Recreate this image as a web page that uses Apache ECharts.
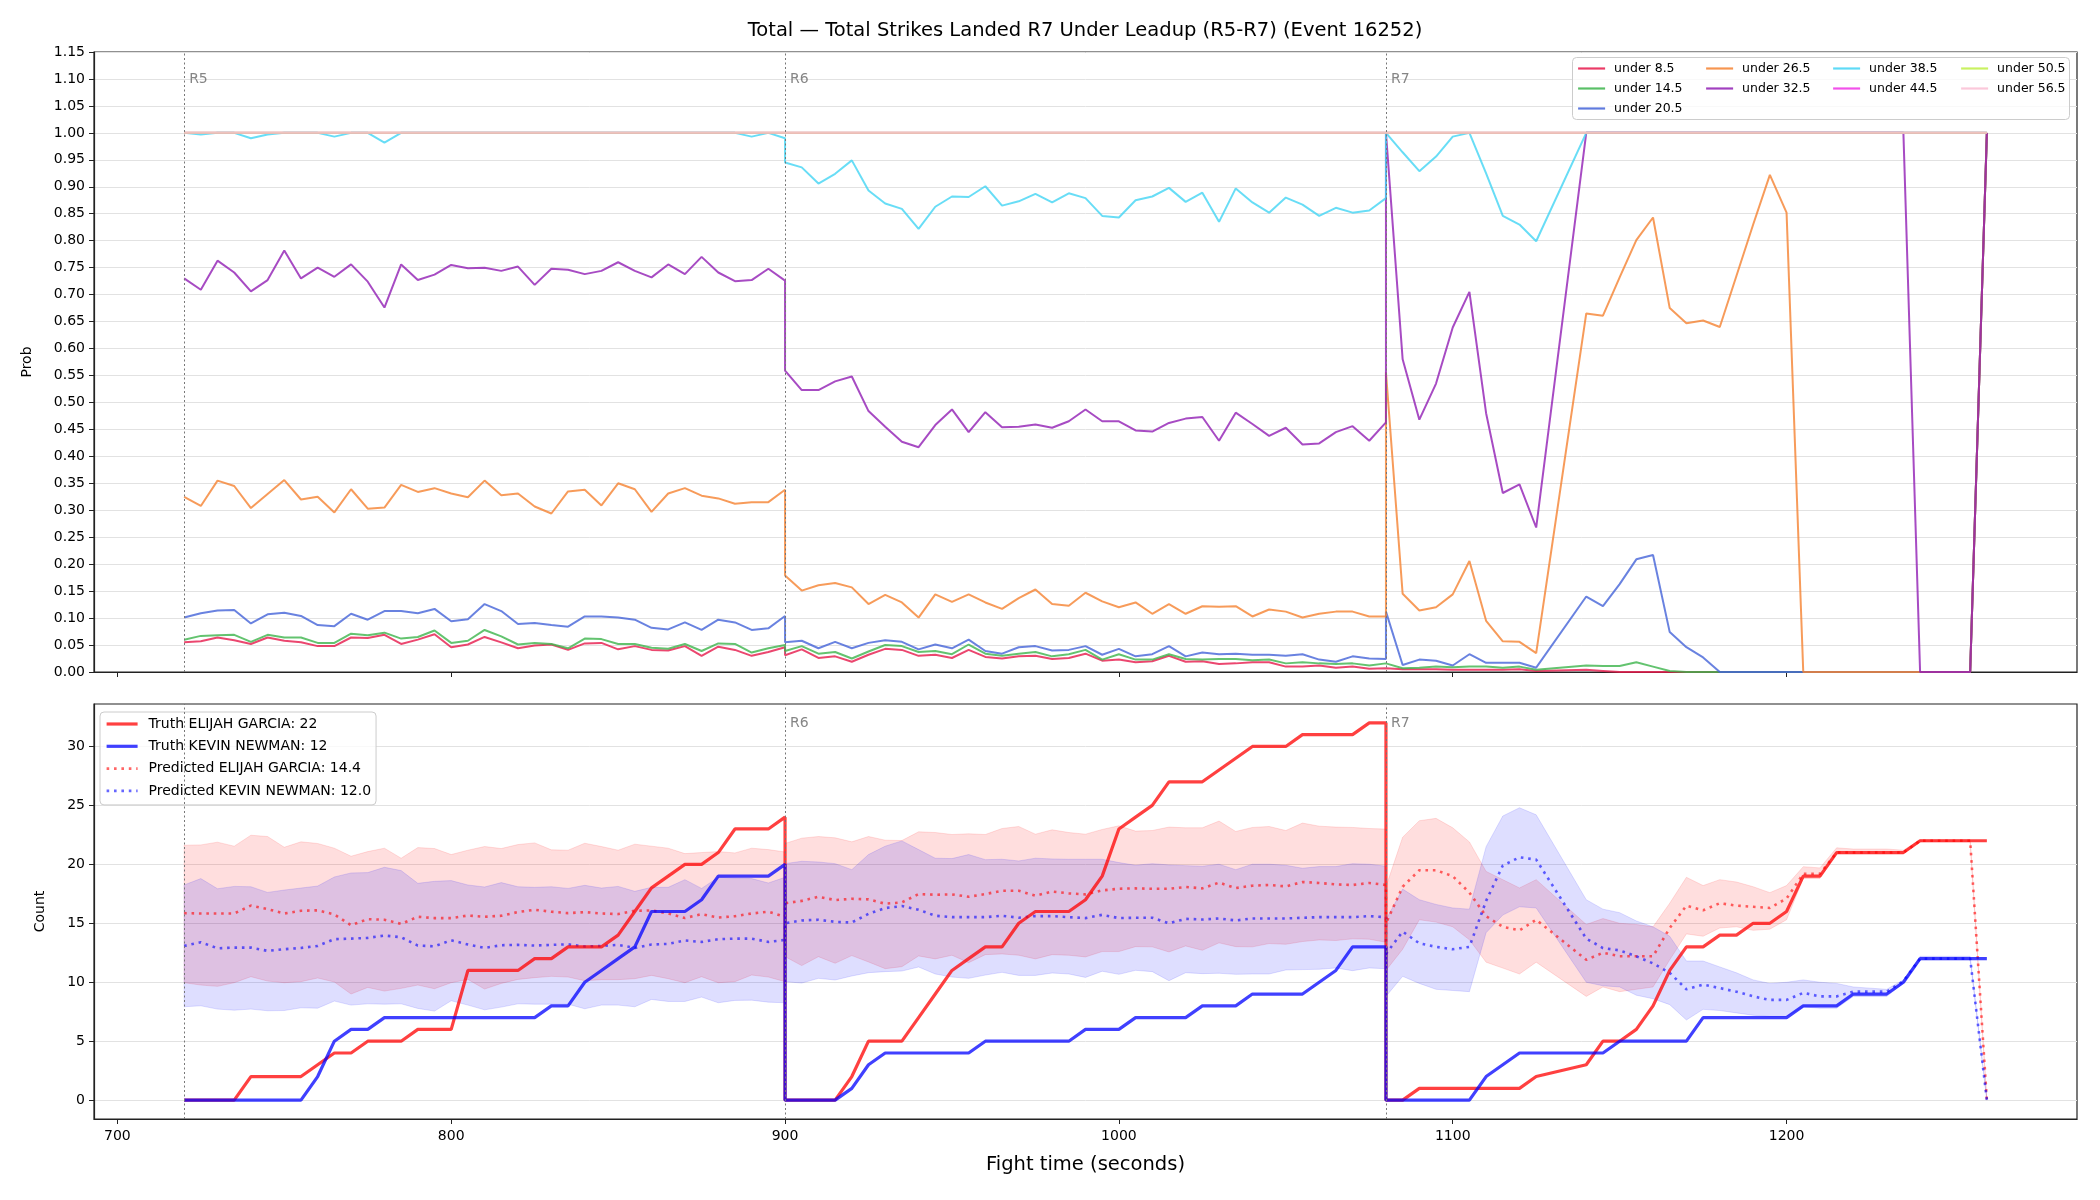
<!DOCTYPE html>
<html>
<head>
<meta charset="utf-8">
<title>Total Strikes Landed R7 Under Leadup</title>
<script src="https://cdn.jsdelivr.net/npm/echarts@6/dist/echarts.min.js"></script>
<style>
  html, body { margin: 0; padding: 0; background: #fff; }
  #chart { width: 2100px; height: 1200px; }
</style>
</head>
<body>
<div id="chart"></div>
<script>
// sample times (s); R7 has no samples at 1130 / 1135
const tR5 = [720, 725, 730, 735, 740, 745, 750, 755, 760, 765, 770, 775, 780, 785, 790, 795, 800, 805, 810,
  815, 820, 825, 830, 835, 840, 845, 850, 855, 860, 865, 870, 875, 880, 885, 890, 895, 900];
const tR6 = [900, 905, 910, 915, 920, 925, 930, 935, 940, 945, 950, 955, 960, 965, 970, 975, 980, 985, 990,
  995, 1000, 1005, 1010, 1015, 1020, 1025, 1030, 1035, 1040, 1045, 1050, 1055, 1060, 1065, 1070, 1075, 1080];
const tR7 = [1080, 1085, 1090, 1095, 1100, 1105, 1110, 1115, 1120, 1125, 1140, 1145, 1150, 1155, 1160, 1165,
  1170, 1175, 1180, 1185, 1190, 1195, 1200, 1205, 1210, 1215, 1220, 1225, 1230, 1235, 1240, 1245, 1250, 1255, 1260];
const tAll = tR5.concat(tR6, tR7);

const roundStarts = [720, 900, 1080];
const roundNames = ['R5', 'R6', 'R7'];
const xTicks = [700, 800, 900, 1000, 1100, 1200];
const countTicks = [0, 5, 10, 15, 20, 25, 30];

// ---- top panel: P(total under line), rows R5 | R6 | R7
const thresholds = ['under 8.5', 'under 14.5', 'under 20.5', 'under 26.5', 'under 32.5',
  'under 38.5', 'under 44.5', 'under 50.5', 'under 56.5'];
const lineColors = ['#e6194b', '#3cb44b', '#4363d8', '#f58231', '#911eb4',
  '#42d4f4', '#f032e6', '#bfef45', '#fabed4'];

const under8 = [
  0.055, 0.057, 0.064, 0.059, 0.052, 0.064, 0.058, 0.055, 0.048, 0.048, 0.064, 0.063, 0.069, 0.052, 0.060, 0.070, 0.046, 0.051, 0.065,
  0.055, 0.044, 0.049, 0.051, 0.041, 0.053, 0.054, 0.042, 0.048, 0.041, 0.040, 0.048, 0.030, 0.047, 0.041, 0.030, 0.037, 0.046,
  0.031, 0.042, 0.026, 0.029, 0.019, 0.032, 0.043, 0.041, 0.030, 0.032, 0.026, 0.041, 0.028, 0.025, 0.029, 0.030, 0.024, 0.026, 0.034,
  0.021, 0.023, 0.018, 0.020, 0.030, 0.019, 0.020, 0.015, 0.016, 0.018, 0.018, 0.010, 0.010, 0.012, 0.008, 0.010, 0.006, 0.007,
  0.007, 0.005, 0.005, 0.005, 0.004, 0.004, 0.004, 0.004, 0.005, 0.002, 0.004, 0.002,
  0, 0, 0, 0, 0, 0, 0, 0, 0, 0, 0, 0, 0, 0, 0, 0, 0, 0, 0, 0, 0, 0, 1
];
const under14 = [
  0.060, 0.067, 0.068, 0.069, 0.056, 0.069, 0.064, 0.064, 0.054, 0.054, 0.071, 0.068, 0.073, 0.062, 0.065, 0.077, 0.054, 0.058, 0.078,
  0.066, 0.051, 0.054, 0.052, 0.044, 0.062, 0.061, 0.052, 0.052, 0.045, 0.043, 0.052, 0.039, 0.053, 0.052, 0.036, 0.044, 0.050,
  0.039, 0.048, 0.034, 0.037, 0.025, 0.038, 0.050, 0.048, 0.037, 0.039, 0.033, 0.051, 0.034, 0.030, 0.034, 0.037, 0.029, 0.033, 0.041,
  0.023, 0.033, 0.023, 0.023, 0.033, 0.024, 0.023, 0.024, 0.024, 0.022, 0.023, 0.016, 0.018, 0.016, 0.015, 0.016, 0.012, 0.016,
  0.016, 0.007, 0.008, 0.010, 0.009, 0.010, 0.010, 0.008, 0.010, 0.004, 0.012, 0.011, 0.011, 0.018, 0.010, 0.002,
  0, 0, 0, 0, 0, 0, 0, 0, 0, 0, 0, 0, 0, 0, 0, 0, 0, 0, 1
];
const under20 = [
  0.101, 0.109, 0.114, 0.115, 0.090, 0.107, 0.110, 0.104, 0.087, 0.085, 0.108, 0.097, 0.113, 0.113, 0.109, 0.117, 0.094, 0.098, 0.126,
  0.113, 0.089, 0.091, 0.087, 0.084, 0.103, 0.103, 0.101, 0.097, 0.082, 0.079, 0.092, 0.078, 0.097, 0.092, 0.078, 0.081, 0.104,
  0.055, 0.058, 0.044, 0.056, 0.044, 0.054, 0.059, 0.056, 0.042, 0.051, 0.044, 0.060, 0.039, 0.034, 0.046, 0.048, 0.040, 0.041, 0.048,
  0.032, 0.043, 0.029, 0.033, 0.048, 0.029, 0.036, 0.033, 0.034, 0.032, 0.032, 0.030, 0.033, 0.023, 0.019, 0.029, 0.025, 0.024,
  0.112, 0.013, 0.023, 0.021, 0.012, 0.033, 0.017, 0.017, 0.017, 0.008, 0.140, 0.122, 0.163, 0.209, 0.217, 0.074, 0.046, 0.027,
  0, 0, 0, 0, 0, 0, 0, 0, 0, 0, 0, 0, 0, 0, 0, 0, 1
];
const under26 = [
  0.325, 0.308, 0.355, 0.345, 0.304, 0.330, 0.356, 0.320, 0.325, 0.296, 0.339, 0.303, 0.305, 0.347, 0.334, 0.341, 0.331, 0.324, 0.355,
  0.328, 0.331, 0.307, 0.294, 0.335, 0.338, 0.309, 0.350, 0.339, 0.297, 0.331, 0.341, 0.327, 0.322, 0.312, 0.315, 0.315, 0.338,
  0.179, 0.151, 0.161, 0.165, 0.157, 0.126, 0.143, 0.129, 0.101, 0.144, 0.130, 0.144, 0.129, 0.117, 0.137, 0.153, 0.126, 0.123, 0.147,
  0.131, 0.120, 0.129, 0.108, 0.126, 0.108, 0.122, 0.121, 0.122, 0.103, 0.116, 0.112, 0.101, 0.108, 0.112, 0.112, 0.103, 0.103,
  0.556, 0.145, 0.114, 0.120, 0.144, 0.206, 0.095, 0.057, 0.056, 0.035, 0.665, 0.661, 0.732, 0.801, 0.843, 0.675, 0.647, 0.652,
  0.640, 0.735, 0.830, 0.922, 0.852, 0, 0, 0, 0, 0, 0, 0, 0, 0, 0, 0, 1
];
const under32 = [
  0.730, 0.709, 0.763, 0.741, 0.706, 0.727, 0.782, 0.730, 0.750, 0.733, 0.756, 0.724, 0.676, 0.756, 0.727, 0.737, 0.755, 0.749, 0.750,
  0.744, 0.752, 0.718, 0.748, 0.746, 0.738, 0.744, 0.760, 0.744, 0.732, 0.756, 0.738, 0.770, 0.741, 0.725, 0.727, 0.748, 0.726,
  0.559, 0.523, 0.523, 0.539, 0.548, 0.484, 0.455, 0.427, 0.417, 0.458, 0.487, 0.445, 0.482, 0.454, 0.455, 0.459, 0.453, 0.465, 0.487,
  0.465, 0.465, 0.448, 0.446, 0.462, 0.470, 0.473, 0.429, 0.481, 0.460, 0.438, 0.453, 0.422, 0.424, 0.445, 0.456, 0.429, 0.463,
  1, 0.580, 0.468, 0.535, 0.639, 0.705, 0.480, 0.332, 0.348, 0.268,
  1, 1, 1, 1, 1, 1, 1, 1, 1, 1, 1, 1, 1, 1, 1, 1, 1, 1, 1, 1, 0, 0, 0, 0, 1
];
const under38 = [
  1, 0.997, 1, 1, 0.990, 0.997, 1, 1, 1, 0.993, 1, 1, 0.982, 1, 1, 1, 1, 1, 1,
  1, 1, 1, 1, 1, 1, 1, 1, 1, 1, 1, 1, 1, 1, 1, 0.993, 1, 0.990,
  0.945, 0.936, 0.906, 0.924, 0.949, 0.893, 0.869, 0.859, 0.822, 0.863, 0.882, 0.881, 0.901, 0.865, 0.873, 0.887, 0.871, 0.888, 0.879,
  0.846, 0.843, 0.875, 0.882, 0.898, 0.872, 0.889, 0.835, 0.897, 0.871, 0.852, 0.880, 0.867, 0.846, 0.861, 0.852, 0.856, 0.879,
  1, 0.964, 0.929, 0.956, 0.993, 1, 0.925, 0.846, 0.830, 0.799,
  1, 1, 1, 1, 1, 1, 1, 1, 1, 1, 1, 1, 1, 1, 1, 1, 1, 1, 1, 1, 1, 1, 1, 1, 1
];
// 44.5 / 50.5 / 56.5 sit at 1.0 the whole way
const underHigh = [
  1, 1, 1, 1, 1, 1, 1, 1, 1, 1, 1, 1, 1, 1, 1, 1, 1, 1, 1, 1, 1, 1, 1, 1, 1, 1, 1, 1, 1, 1, 1, 1, 1, 1, 1, 1, 1,
  1, 1, 1, 1, 1, 1, 1, 1, 1, 1, 1, 1, 1, 1, 1, 1, 1, 1, 1, 1, 1, 1, 1, 1, 1, 1, 1, 1, 1, 1, 1, 1, 1, 1, 1, 1, 1,
  1, 1, 1, 1, 1, 1, 1, 1, 1, 1, 1, 1, 1, 1, 1, 1, 1, 1, 1, 1, 1, 1, 1, 1, 1, 1, 1, 1, 1, 1, 1, 1, 1, 1, 1
];
const probRows = [under8, under14, under20, under26, under32, under38, underHigh, underHigh, underHigh];

// ---- bottom panel: counts, rows R5 | R6 | R7
const garciaTruth = [
  0, 0, 0, 0, 2, 2, 2, 2, 3, 4, 4, 5, 5, 5, 6, 6, 6, 11, 11, 11, 11, 12, 12, 13, 13, 13, 14, 16, 18, 19, 20, 20, 21, 23, 23, 23, 24,
  0, 0, 0, 0, 2, 5, 5, 5, 7, 9, 11, 12, 13, 13, 15, 16, 16, 16, 17, 19, 23, 24, 25, 27, 27, 27, 28, 29, 30, 30, 30, 31, 31, 31, 31, 32, 32,
  0, 0, 1, 1, 1, 1, 1, 1, 1, 2, 3, 5, 5, 6, 8, 11, 13, 13, 14, 14, 15, 15, 16, 19, 19, 21, 21, 21, 21, 21, 22, 22, 22, 22, 22
];
const newmanTruth = [
  0, 0, 0, 0, 0, 0, 0, 0, 2, 5, 6, 6, 7, 7, 7, 7, 7, 7, 7, 7, 7, 7, 8, 8, 10, 11, 12, 13, 16, 16, 16, 17, 19, 19, 19, 19, 20,
  0, 0, 0, 0, 1, 3, 4, 4, 4, 4, 4, 4, 5, 5, 5, 5, 5, 5, 6, 6, 6, 7, 7, 7, 7, 8, 8, 8, 9, 9, 9, 9, 10, 11, 13, 13, 13,
  0, 0, 0, 0, 0, 0, 2, 3, 4, 4, 4, 4, 5, 5, 5, 5, 5, 7, 7, 7, 7, 7, 7, 8, 8, 8, 9, 9, 9, 10, 12, 12, 12, 12, 12
];
const garciaPred = [
  15.86, 15.83, 15.83, 15.83, 16.5, 16.2, 15.83, 16.06, 16.1, 15.75, 14.84, 15.35, 15.3, 14.95, 15.55, 15.44, 15.44, 15.66, 15.55,
  15.64, 15.95, 16.15, 15.98, 15.86, 15.95, 15.83, 15.78, 16.06, 16.09, 15.83, 15.44, 15.78, 15.49, 15.6, 15.83, 15.98, 15.55,
  16.7, 16.9, 17.25, 16.97, 17.08, 17.03, 16.66, 16.77, 17.48, 17.42, 17.45, 17.25, 17.48, 17.76, 17.76, 17.34, 17.69, 17.54, 17.45,
  17.79, 17.93, 17.96, 17.93, 17.93, 18.08, 17.96, 18.45, 17.99, 18.19, 18.25, 18.13, 18.5, 18.42, 18.3, 18.25, 18.42, 18.25,
  15.0, 18.1, 19.5, 19.5, 19.0, 17.6, 15.6, 14.7, 14.4, 15.3, 11.9, 12.5, 12.2, 12.2, 12.2, 14.6, 16.5, 16.1, 16.7, 16.5, 16.4,
  16.3, 17.1, 19.2, 19.2, 21.0, 21.0, 21.0, 21.0, 21.0, 22.0, 22.0, 22.0, 22.0, 0
];
const newmanPred = [
  13.08, 13.39, 12.88, 12.94, 12.94, 12.66, 12.8, 12.91, 13.08, 13.65, 13.7, 13.76, 13.96, 13.82, 13.11, 13.05, 13.56, 13.2, 12.91,
  13.14, 13.17, 13.11, 13.17, 13.22, 13.03, 13.08, 13.17, 12.91, 13.2, 13.25, 13.54, 13.42, 13.65, 13.7, 13.7, 13.42, 13.59,
  15.0, 15.24, 15.3, 15.12, 15.07, 15.8, 16.29, 16.46, 16.15, 15.64, 15.52, 15.52, 15.52, 15.64, 15.47, 15.61, 15.61, 15.52, 15.44,
  15.72, 15.44, 15.47, 15.47, 15.0, 15.38, 15.32, 15.41, 15.24, 15.41, 15.41, 15.41, 15.47, 15.52, 15.52, 15.52, 15.61, 15.52,
  12.4, 14.3, 13.3, 13.0, 12.8, 13.0, 16.9, 19.9, 20.6, 20.4, 13.7, 12.9, 12.7, 12.2, 11.6, 10.8, 9.4, 9.8, 9.5, 9.2, 8.8,
  8.5, 8.5, 9.1, 8.8, 8.8, 9.2, 9.2, 9.2, 10.1, 12.0, 12.0, 12.0, 12.0, 0
];
const garciaHi = [
  21.62, 21.65, 21.88, 21.54, 22.47, 22.36, 21.45, 21.91, 21.77, 21.37, 20.69, 21.08, 21.37, 20.52, 21.42, 21.34, 20.83, 21.2, 21.51,
  21.34, 21.68, 21.82, 21.23, 21.2, 21.79, 21.51, 21.2, 21.71, 21.54, 21.37, 20.91, 21.0, 21.08, 20.97, 21.37, 21.25, 21.05,
  21.77, 22.22, 22.36, 22.25, 21.91, 22.36, 22.05, 22.02, 22.76, 22.7, 22.53, 22.59, 22.53, 23.04, 23.21, 22.56, 22.93, 22.7, 22.56,
  22.96, 23.27, 22.82, 22.87, 23.16, 23.1, 23.1, 23.67, 22.79, 23.13, 23.21, 22.87, 23.5, 23.24, 23.16, 23.13, 23.04, 22.99,
  18.1, 22.3, 23.7, 23.9, 23.1, 21.9, 19.4, 18.7, 18.0, 18.7, 14.9, 15.4, 15.0, 14.9, 14.7, 16.7, 18.9, 18.2, 18.7, 18.5, 18.1,
  17.6, 18.2, 19.8, 19.7, 21.4, 21.3, 21.3, 21.3, 21.2, 22.1, 22.1, 22.1, 22.1, 0
];
const garciaLo = [
  9.96, 9.76, 9.65, 9.96, 10.47, 10.1, 9.96, 10.05, 10.36, 10.02, 9.0, 9.56, 9.25, 9.48, 9.76, 9.45, 9.96, 10.24, 9.42,
  9.9, 10.24, 10.39, 10.5, 10.44, 10.13, 10.22, 10.22, 10.3, 10.58, 10.3, 9.96, 10.47, 9.96, 10.05, 10.61, 10.44, 10.05,
  12.17, 11.41, 12.17, 11.61, 12.26, 11.72, 11.15, 11.32, 12.23, 11.98, 12.29, 11.66, 12.34, 12.4, 12.29, 11.98, 12.34, 12.29, 12.15,
  12.6, 12.6, 13.02, 13.0, 12.57, 13.08, 12.71, 13.34, 13.02, 13.0, 13.28, 13.22, 13.45, 13.59, 13.54, 13.68, 13.65, 13.39,
  11.0, 12.8, 15.3, 15.1, 14.7, 13.6, 11.7, 11.2, 10.7, 11.7, 8.8, 9.6, 9.2, 9.4, 9.6, 11.9, 14.1, 13.9, 14.6, 14.7, 14.4,
  14.5, 15.3, 18.8, 18.8, 20.9, 20.9, 20.9, 20.9, 20.9, 21.9, 21.9, 21.9, 21.9, 0
];
const newmanHi = [
  18.25, 18.79, 17.93, 18.13, 18.1, 17.62, 17.82, 17.99, 18.16, 18.93, 19.27, 19.3, 19.75, 19.47, 18.39, 18.56, 18.62, 18.25, 18.08,
  18.45, 18.1, 18.05, 18.1, 17.96, 18.22, 17.99, 18.13, 17.71, 18.05, 18.05, 18.7, 17.96, 18.9, 18.84, 18.79, 18.42, 18.9,
  20.06, 20.26, 20.2, 20.06, 19.55, 20.83, 21.54, 21.99, 21.25, 20.52, 20.49, 20.83, 20.4, 20.43, 20.29, 20.52, 20.46, 20.43, 20.43,
  20.43, 20.15, 19.92, 20.06, 19.95, 19.89, 19.84, 20.01, 19.55, 20.01, 20.01, 19.92, 19.67, 19.81, 19.81, 20.06, 20.01, 19.84,
  15.3, 17.9, 17.0, 16.6, 16.3, 16.2, 21.5, 24.1, 24.8, 24.2, 17.0, 16.2, 15.9, 15.2, 14.7, 13.9, 11.8, 11.8, 11.3, 10.8, 10.2,
  9.9, 10.0, 10.2, 10.0, 9.9, 9.6, 9.5, 9.4, 10.2, 12.2, 12.2, 12.2, 12.2, 0
];
const newmanLo = [
  7.92, 8.0, 7.72, 7.63, 7.72, 7.58, 7.6, 7.83, 7.8, 8.4, 8.06, 8.17, 8.14, 8.17, 7.78, 7.55, 8.43, 8.06, 7.66,
  7.89, 8.17, 8.14, 8.14, 8.14, 7.75, 8.06, 8.06, 7.92, 8.54, 8.37, 8.37, 8.74, 8.26, 8.46, 8.48, 8.31, 8.26,
  10.05, 9.93, 10.33, 10.19, 10.53, 10.81, 10.9, 10.95, 11.29, 10.7, 10.44, 10.33, 10.61, 10.84, 10.58, 10.58, 10.78, 10.7, 10.41,
  10.93, 10.67, 11.01, 10.9, 10.13, 10.81, 10.73, 10.76, 10.67, 10.7, 10.7, 11.04, 11.07, 11.1, 11.21, 10.98, 11.21, 11.15,
  8.8, 10.5, 9.9, 9.4, 9.3, 9.2, 14.2, 15.7, 16.4, 16.3, 10.0, 9.7, 9.6, 8.9, 8.6, 8.1, 6.8, 7.7, 7.6, 7.4, 7.2,
  7.1, 7.1, 7.9, 7.8, 7.8, 8.8, 8.8, 8.8, 9.9, 11.9, 11.9, 11.9, 11.9, 0
];

const FONT = 'DejaVu Sans';
const chart = echarts.init(document.getElementById('chart'));

function pts(vals) {
  return tAll.map((t, i) => [t, vals[i]]);
}

// shaded band between lo and hi, drawn as one polygon through the axes
function band(lo, hi, fill, edge) {
  return {
    type: 'custom',
    xAxisIndex: 1, yAxisIndex: 1,
    silent: true,
    clip: true,
    data: [[tAll[0], lo[0]]],
    renderItem: (params, api) => {
      const upper = tAll.map((t, i) => api.coord([t, hi[i]]));
      const lower = tAll.map((t, i) => api.coord([t, lo[i]])).reverse();
      return {
        type: 'polygon',
        shape: { points: upper.concat(lower) },
        style: { fill: fill, stroke: edge, lineWidth: 1 }
      };
    }
  };
}

const gridLine = { show: true, lineStyle: { color: '#e2e2e2', width: 1 } };
const axisDark = { show: true, onZero: false, lineStyle: { color: '#222', width: 1.2 } };
const tickDark = { show: true, length: 5, lineStyle: { color: '#222', width: 1 } };
const labelText = { fontSize: 14, color: '#000', fontFamily: FONT };

const roundLine = {
  silent: true,
  symbol: ['none', 'none'],
  label: { show: false },
  lineStyle: { color: '#777', type: [2, 2.5], width: 1 },
  data: roundStarts.map(x => ({ xAxis: x }))
};

const topSeries = thresholds.map((name, k) => ({
  type: 'line',
  name: name,
  xAxisIndex: 0, yAxisIndex: 0,
  data: pts(probRows[k]),
  symbol: 'none',
  color: lineColors[k],
  lineStyle: { width: 2, opacity: 0.8 },
  emphasis: { disabled: true },
  markLine: k === 0 ? roundLine : undefined
}));

const roundTags = (yVal, from, axisIdx) => ({
  type: 'scatter',
  xAxisIndex: axisIdx, yAxisIndex: axisIdx,
  silent: true,
  symbolSize: 0,
  data: roundStarts.slice(from).map((x, i) => ({ value: [x, yVal], name: roundNames[from + i] })),
  label: {
    show: true, position: 'right', distance: 5, formatter: '{b}',
    fontSize: 14, color: '#666', fontFamily: FONT
  }
});

const bottomSeries = [
  band(garciaLo, garciaHi, 'rgba(255,0,0,0.13)', 'rgba(255,0,0,0.12)'),
  band(newmanLo, newmanHi, 'rgba(0,0,255,0.13)', 'rgba(0,0,255,0.12)'),
  {
    type: 'line', name: 'Predicted ELIJAH GARCIA: 14.4',
    xAxisIndex: 1, yAxisIndex: 1, data: pts(garciaPred), symbol: 'none',
    color: 'rgba(255,0,0,0.6)',
    lineStyle: { width: 2.6, type: [2.6, 4.8], cap: 'butt' },
    emphasis: { disabled: true }
  },
  {
    type: 'line', name: 'Predicted KEVIN NEWMAN: 12.0',
    xAxisIndex: 1, yAxisIndex: 1, data: pts(newmanPred), symbol: 'none',
    color: 'rgba(0,0,255,0.6)',
    lineStyle: { width: 2.6, type: [2.6, 4.8], cap: 'butt' },
    emphasis: { disabled: true }
  },
  {
    type: 'line', name: 'Truth ELIJAH GARCIA: 22',
    xAxisIndex: 1, yAxisIndex: 1, data: pts(garciaTruth), symbol: 'none',
    color: 'rgba(255,0,0,0.75)',
    lineStyle: { width: 3.2 },
    emphasis: { disabled: true },
    markLine: roundLine
  },
  {
    type: 'line', name: 'Truth KEVIN NEWMAN: 12',
    xAxisIndex: 1, yAxisIndex: 1, data: pts(newmanTruth), symbol: 'none',
    color: 'rgba(0,0,255,0.75)',
    lineStyle: { width: 3.2 },
    emphasis: { disabled: true }
  }
];

// top legend: matplotlib style column-major, 4 columns
const legendCols = [
  { left: 1577, names: thresholds.slice(0, 3) },
  { left: 1705, names: thresholds.slice(3, 5) },
  { left: 1832, names: thresholds.slice(5, 7) },
  { left: 1960, names: thresholds.slice(7, 9) }
];
const topLegends = legendCols.map(c => ({
  orient: 'vertical',
  left: c.left, top: 62,
  padding: 0,
  itemWidth: 27, itemHeight: 12, itemGap: 7,
  selectedMode: false,
  itemStyle: { opacity: 0 },
  lineStyle: { width: 2.2, opacity: 0.85 },
  textStyle: { fontSize: 12.5, color: '#000', fontFamily: FONT, padding: [0, 0, 0, 4] },
  data: c.names
}));

const option = {
  animation: false,
  backgroundColor: '#fff',
  title: {
    text: 'Total \u2014 Total Strikes Landed R7 Under Leadup (R5-R7) (Event 16252)',
    left: 1085, top: 21, textAlign: 'center', padding: 0,
    textStyle: { fontSize: 19.5, fontWeight: 'normal', color: '#000', fontFamily: FONT }
  },
  graphic: [{
    type: 'rect', left: 1572, top: 57, z: 3,
    shape: { width: 497, height: 62, r: 4 },
    style: { fill: 'rgba(255,255,255,0.8)', stroke: '#cccccc', lineWidth: 1 }
  }],
  legend: topLegends.concat([{
    orient: 'vertical',
    left: 100, top: 712,
    padding: [5, 5, 7, 5],
    itemWidth: 31, itemHeight: 14, itemGap: 8.3,
    selectedMode: false,
    itemStyle: { opacity: 0 },
    backgroundColor: 'rgba(255,255,255,0.8)',
    borderColor: '#cccccc', borderWidth: 1, borderRadius: 4,
    textStyle: { fontSize: 14, color: '#000', fontFamily: FONT, padding: [0, 0, 0, 6] },
    data: [
      { name: 'Truth ELIJAH GARCIA: 22', lineStyle: { width: 3.2 } },
      { name: 'Truth KEVIN NEWMAN: 12', lineStyle: { width: 3.2 } },
      { name: 'Predicted ELIJAH GARCIA: 14.4', lineStyle: { width: 2.6 } },
      { name: 'Predicted KEVIN NEWMAN: 12.0', lineStyle: { width: 2.6 } }
    ]
  }]),
  grid: [
    { left: 94, right: 23, top: 52, height: 620, show: true, borderColor: '#222', borderWidth: 1.2 },
    { left: 94, right: 23, top: 704, height: 415, show: true, borderColor: '#222', borderWidth: 1.2 }
  ],
  xAxis: [
    {
      type: 'value', gridIndex: 0, min: 693, max: 1287, minInterval: 100, maxInterval: 100,
      axisLine: axisDark,
      axisTick: Object.assign({ customValues: xTicks }, tickDark),
      axisLabel: { show: false },
      splitLine: { show: false }
    },
    {
      type: 'value', gridIndex: 1, min: 693, max: 1287, minInterval: 100, maxInterval: 100,
      name: 'Fight time (seconds)', nameLocation: 'middle', nameGap: 36,
      nameTextStyle: { fontSize: 19.5, color: '#000', fontFamily: FONT },
      axisLine: axisDark,
      axisTick: Object.assign({ customValues: xTicks }, tickDark),
      axisLabel: Object.assign({ customValues: xTicks, margin: 10, formatter: v => String(v) }, labelText),
      splitLine: { show: false }
    }
  ],
  yAxis: [
    {
      type: 'value', gridIndex: 0, min: 0, max: 1.15, interval: 0.05,
      name: 'Prob', nameLocation: 'middle', nameGap: 60,
      nameTextStyle: { fontSize: 14, color: '#000', fontFamily: FONT },
      axisLine: axisDark,
      axisTick: tickDark,
      axisLabel: Object.assign({ margin: 9, formatter: v => v.toFixed(2) }, labelText),
      splitLine: gridLine
    },
    {
      type: 'value', gridIndex: 1, min: -1.6, max: 33.6, minInterval: 5, maxInterval: 5,
      name: 'Count', nameLocation: 'middle', nameGap: 47,
      nameTextStyle: { fontSize: 14, color: '#000', fontFamily: FONT },
      axisLine: axisDark,
      axisTick: Object.assign({ customValues: countTicks }, tickDark),
      axisLabel: Object.assign({ customValues: countTicks, margin: 9 }, labelText),
      splitLine: gridLine
    }
  ],
  series: topSeries.concat(bottomSeries, [roundTags(1.10, 0, 0), roundTags(32.0, 1, 1)])
};

chart.setOption(option);
</script>
</body>
</html>
